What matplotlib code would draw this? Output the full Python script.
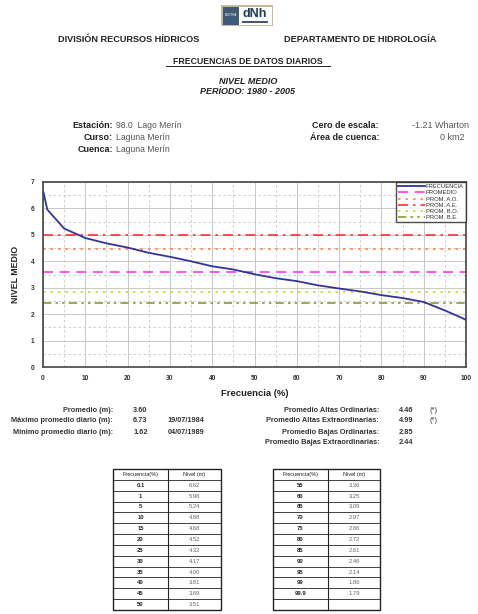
import matplotlib
matplotlib.use("Agg")
import matplotlib.pyplot as plt
from matplotlib.patches import Rectangle

plt.rcParams['font.family'] = ['Liberation Sans', 'DejaVu Sans']

W, H = 478, 614
DPI = 100

# ---------------- data ----------------
freq = [0.1, 1, 5, 10, 15, 20, 25, 30, 35, 40, 45, 50,
        55, 60, 65, 70, 75, 80, 85, 90, 95, 99, 99.9]
nivel = [6.62, 5.96, 5.24, 4.88, 4.68, 4.52, 4.32, 4.17, 4.00, 3.81, 3.69, 3.51,
         3.36, 3.25, 3.09, 2.97, 2.86, 2.72, 2.61, 2.46, 2.14, 1.86, 1.79]
promedio = 3.60
prom_ao = 4.46
prom_ae = 4.99
prom_bo = 2.85
prom_be = 2.44
maximo = 6.73
fecha_max = "19/07/1984"
minimo = 1.62
fecha_min = "04/07/1989"
x_ticks = [0, 10, 20, 30, 40, 50, 60, 70, 80, 90, 100]
y_ticks = [0, 1, 2, 3, 4, 5, 6, 7]

fig = plt.figure(figsize=(W / DPI, H / DPI), dpi=DPI)


def fx(x):
    return x / W


def fy(y):
    return 1 - y / H


def txt(x, y, s, **kw):
    kw.setdefault('fontsize', 5)
    kw.setdefault('va', 'center')
    fig.text(fx(x), fy(y), s, **kw)


# ---------------- logo ----------------
logo = fig.add_axes([fx(221), fy(26), fx(52), 21 / H])
logo.set_xlim(0, 52)
logo.set_ylim(0, 21)
logo.axis('off')
logo.add_patch(Rectangle((0, 0), 52, 21, facecolor='#c8b89a', edgecolor='none'))
logo.add_patch(Rectangle((1.5, 1.5), 16, 18, facecolor='#3e5a78', edgecolor='none'))
logo.add_patch(Rectangle((17.5, 1.5), 33, 18, facecolor='white', edgecolor='none'))
logo.text(9.5, 10.5, "MVOTMA", fontsize=2, color='white', ha='center', va='center')
logo.text(34, 12, "dNh", fontsize=9, fontweight='bold', color='#1f3a5a', ha='center', va='center')
logo.add_patch(Rectangle((21, 3), 26, 2, facecolor='#3e5a78', edgecolor='none'))

# ---------------- headers ----------------
txt(129, 39, "DIVISIÓN RECURSOS HÍDRICOS", fontsize=6.6, fontweight='bold', ha='center', color='#222222')
txt(360, 39, "DEPARTAMENTO DE HIDROLOGÍA", fontsize=6.6, fontweight='bold', ha='center', color='#222222')
fig.text(fx(248), fy(61), "FRECUENCIAS DE DATOS DIARIOS", fontsize=6.3, fontweight='bold',
         ha='center', va='center', color='#222222')
fig.add_artist(plt.Line2D([fx(166), fx(330)], [fy(66), fy(66)], color='#222222', lw=0.7))
txt(248, 82, "NIVEL MEDIO", fontsize=6.5, fontweight='bold', style='italic', ha='center', color='#222222')
txt(248, 92, "PERÍODO: 1980 - 2005", fontsize=6.5, fontweight='bold', style='italic', ha='center', color='#222222')

# station info
for y, lab, val in [(126, "Estación:", "98.0  Lago Merín"),
                    (138, "Curso:", "Laguna Merín"),
                    (150, "Cuenca:", "Laguna Merín")]:
    txt(113, y, lab, fontsize=6.5, fontweight='bold', ha='right', color='#222222')
    txt(116, y, val, fontsize=6.2, ha='left', color='#555555')
txt(379, 126, "Cero de escala:", fontsize=6.5, fontweight='bold', ha='right', color='#222222')
txt(441, 126, "-1.21 Wharton", fontsize=6.5, ha='center', color='#555555')
txt(379, 138, "Área de cuenca:", fontsize=6.5, fontweight='bold', ha='right', color='#222222')
txt(452, 138, "0 km2", fontsize=6.5, ha='center', color='#555555')

# ---------------- main chart ----------------
ax = fig.add_axes([fx(43), fy(367), fx(466 - 43), (367 - 182) / H])
ax.set_xlim(0, 100)
ax.set_ylim(0, 7)
ax.set_xticks(x_ticks)
ax.set_yticks(y_ticks)
ax.set_xticks([5 + 10 * i for i in range(10)], minor=True)
ax.set_yticks([0.5 + i for i in range(7)], minor=True)
ax.grid(which='major', color='#c8c8c8', lw=0.7, ls='-')
ax.grid(which='minor', color='#c8c8c8', lw=0.6, ls=(0, (3, 3)))
ax.tick_params(which='both', length=0, labelsize=4.8, colors='#333333', pad=6)
for lbl in ax.get_xticklabels() + ax.get_yticklabels():
    lbl.set_fontweight('bold')
for sp in ax.spines.values():
    sp.set_color('#444444')
    sp.set_linewidth(1.2)
ax.set_axisbelow(True)

ax.axhline(promedio, color='#ff33ff', lw=1.2, ls=(0, (6, 4)), label='PROMEDIO')
ax.axhline(prom_ao, color='#ff8040', lw=1.2, ls=(0, (1.5, 3)), label='PROM. A.O.')
ax.axhline(prom_ae, color='#ff3030', lw=1.2, ls=(0, (6, 3, 1.5, 3)), label='PROM. A.E.')
ax.axhline(prom_bo, color='#c8d830', lw=1.2, ls=(0, (1.5, 3)), label='PROM. B.O.')
ax.axhline(prom_be, color='#8a9a30', lw=1.2, ls=(0, (5, 2.5, 1.5, 2.5, 1.5, 2.5)), label='PROM. B.E.')
ax.plot(freq, nivel, color='#333399', lw=1.3, label='FRECUENCIA', zorder=5)

handles, labels = ax.get_legend_handles_labels()
order = [5, 0, 1, 2, 3, 4]
leg = ax.legend([handles[i] for i in order], [labels[i] for i in order],
                loc='upper right', fontsize=4.2, frameon=True, fancybox=False,
                borderaxespad=0.0, handlelength=4.6, handletextpad=0.15,
                labelspacing=0.2, borderpad=0.35)
leg.get_frame().set_edgecolor('#222222')
leg.get_frame().set_linewidth(1.0)
for tx in leg.get_texts():
    tx.set_color('#333333')

ax.set_xlabel("Frecuencia (%)", fontsize=6.8, fontweight='bold', color='#222222', labelpad=5)
ax.set_ylabel("NIVEL MEDIO", fontsize=6.3, fontweight='bold', color='#222222', labelpad=8)

# ---------------- statistics ----------------
FS = 5.3
txt(113, 410, "Promedio (m):", fontsize=FS, fontweight='bold', ha='right', color='#333333')
txt(113, 421, "Máximo promedio diario (m):", fontsize=FS, fontweight='bold', ha='right', color='#333333')
txt(113, 432, "Mínimo promedio diario (m):", fontsize=FS, fontweight='bold', ha='right', color='#333333')
txt(133, 410, f"{promedio:.2f}", fontsize=FS, fontweight='bold', ha='left', color='#333333')
txt(133, 421, f"{maximo:.2f}", fontsize=FS, fontweight='bold', ha='left', color='#333333')
txt(133, 432, f"{minimo:.2f}", fontsize=FS, fontweight='bold', ha='left', color='#333333')
txt(168, 421, fecha_max, fontsize=FS, fontweight='bold', ha='left', color='#333333')
txt(168, 432, fecha_min, fontsize=FS, fontweight='bold', ha='left', color='#333333')

right_stats = [("Promedio Altas Ordinarias:", prom_ao, "(*)"),
               ("Promedio Altas Extraordinarias:", prom_ae, "(*)"),
               ("Promedio Bajas Ordinarias:", prom_bo, ""),
               ("Promedio Bajas Extraordinarias:", prom_be, "")]
for i, (lab, v, star) in enumerate(right_stats):
    y = 410 + 11 * i
    xr = 379 if i != 3 else 380
    txt(xr, y, lab, fontsize=FS, fontweight='bold', ha='right', color='#333333')
    txt(399, y, f"{v:.2f}", fontsize=FS, fontweight='bold', ha='left', color='#333333')
    if star:
        txt(429, y, star, fontsize=FS, ha='left', color='#333333')


# ---------------- tables ----------------
def draw_table(x0, x1, xdiv, rows):
    top, bot = 469, 610
    tax = fig.add_axes([fx(x0), fy(bot), fx(x1 - x0), (bot - top) / H])
    n = len(rows) + 1
    tax.set_xlim(x0, x1)
    tax.set_ylim(n, 0)
    tax.axis('off')
    tax.add_patch(Rectangle((x0, 0), x1 - x0, n, fill=False, edgecolor='#222222',
                            lw=1.0, clip_on=False))
    tax.plot([xdiv, xdiv], [0, n], color='#222222', lw=0.8, clip_on=False)
    for r in range(1, n):
        tax.plot([x0, x1], [r, r], color='#222222', lw=0.6, clip_on=False)
    cf = (x0 + xdiv) / 2
    cn = (xdiv + x1) / 2
    tax.text(cf, 0.5, "Frecuencia(%)", fontsize=4, ha='center', va='center', color='#222222')
    tax.text(cn, 0.5, "Nivel (m)", fontsize=4, ha='center', va='center', color='#222222')
    for r, (f, v) in enumerate(rows, start=1):
        if f is None:
            continue
        tax.text(cf, r + 0.5, f"{f:g}", fontsize=4.2, fontweight='bold', ha='center', va='center', color='#222222')
        tax.text(cn, r + 0.5, f"{v:.2f}", fontsize=4.2, ha='center', va='center', color='#666666')


left_rows = list(zip(freq[:12], nivel[:12]))
right_rows = list(zip(freq[12:], nivel[12:])) + [(None, None)]
draw_table(113, 221, 168, left_rows)
draw_table(273, 380, 328, right_rows)

fig.savefig("out.png", dpi=DPI)
